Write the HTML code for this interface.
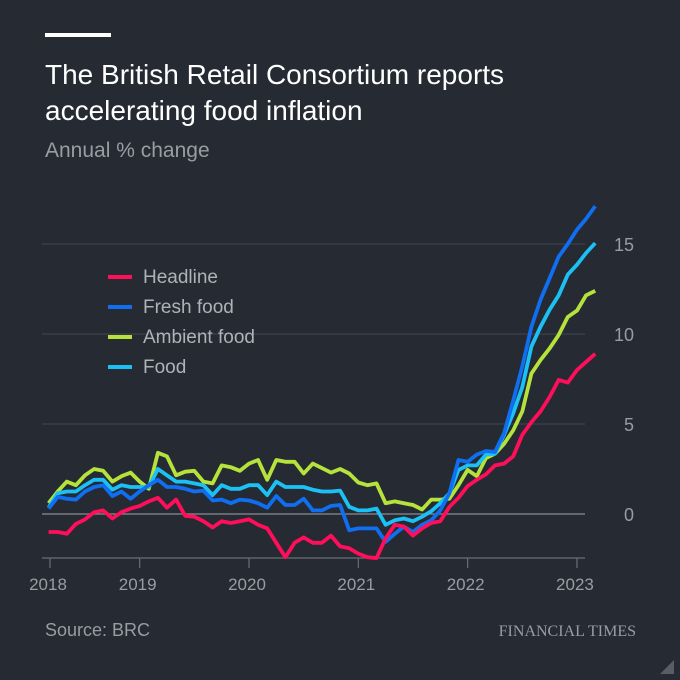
<!DOCTYPE html>
<html><head><meta charset="utf-8"><style>
body{margin:0;background:#262a33;}
#c{position:relative;width:680px;height:680px;background:#262a33;font-family:"Liberation Sans",sans-serif;overflow:hidden}
</style></head><body>
<div id="c">
<svg width="680" height="680">
<rect x="45" y="33" width="66" height="4" fill="#fff"/>
<text x="45" y="84" fill="#fff" font-size="28">The British Retail Consortium reports</text>
<text x="45" y="120" fill="#fff" font-size="28">accelerating food inflation</text>
<text x="45" y="157" fill="#9a9ca3" font-size="21">Annual % change</text>
<g id="grid"></g>
<g id="lines"></g>
<g id="legend"></g>
<text x="45" y="636" fill="#9a9ca3" font-size="18">Source: BRC</text>
<text x="636" y="636" fill="#9a9ca3" font-size="16" text-anchor="end" font-family="Liberation Serif, serif">FINANCIAL TIMES</text>
<polygon points="674,660 674,674 660,674" fill="#5a5d66"/>
</svg>
</div>
<script>
const yTicks=[0,5,10,15];
const xTickYears=[2018,2019,2020,2021,2022,2023];
const startMonth=2; // Mar 2018 (0-based month)
const headline=[-1.0,-1.0,-1.1,-0.55,-0.3,0.1,0.2,-0.25,0.1,0.3,0.45,0.7,0.9,0.35,0.8,-0.1,-0.15,-0.4,-0.75,-0.4,-0.5,-0.4,-0.3,-0.6,-0.8,-1.6,-2.4,-1.6,-1.3,-1.6,-1.6,-1.2,-1.8,-1.9,-2.2,-2.4,-2.45,-1.35,-0.6,-0.7,-1.2,-0.8,-0.5,-0.4,0.4,0.9,1.55,1.9,2.2,2.7,2.8,3.2,4.4,5.1,5.7,6.5,7.45,7.3,8.0,8.45,8.9];
const fresh=[0.3,0.95,0.85,0.8,1.25,1.5,1.6,1.0,1.25,0.85,1.25,1.6,1.9,1.5,1.5,1.4,1.25,1.3,0.75,0.8,0.6,0.8,0.75,0.6,0.35,1.0,0.5,0.5,0.85,0.2,0.2,0.45,0.5,-0.9,-0.8,-0.8,-0.8,-1.55,-1.1,-0.7,-1.0,-0.6,-0.35,0.2,1.15,3.0,2.9,3.3,3.5,3.45,4.5,6.3,8.2,10.4,11.9,13.1,14.3,15.0,15.8,16.4,17.1];
const ambient=[0.6,1.25,1.8,1.6,2.15,2.5,2.4,1.8,2.1,2.3,1.8,1.4,3.4,3.2,2.15,2.35,2.4,1.8,1.7,2.7,2.6,2.4,2.8,3.0,1.9,3.0,2.9,2.9,2.25,2.8,2.55,2.3,2.5,2.25,1.75,1.6,1.7,0.6,0.7,0.6,0.5,0.25,0.8,0.8,0.85,1.6,2.45,2.1,3.1,3.35,3.9,4.65,5.7,7.8,8.55,9.2,9.95,10.95,11.3,12.15,12.4];
const food=[0.35,1.15,1.25,1.25,1.6,1.9,1.9,1.35,1.6,1.5,1.5,1.5,2.5,2.15,1.8,1.8,1.7,1.6,1.05,1.6,1.4,1.4,1.6,1.6,1.05,1.8,1.5,1.5,1.5,1.35,1.25,1.25,1.3,0.4,0.2,0.2,0.3,-0.6,-0.35,-0.25,-0.4,-0.15,0.15,0.6,1.15,2.45,2.7,2.7,3.3,3.35,4.4,5.6,7.05,9.3,10.4,11.35,12.15,13.3,13.85,14.5,15.05];
const seriesNames=["Headline","Fresh food","Ambient food","Food"];
const NS="http://www.w3.org/2000/svg";
const y=v=>514-18*v;
const x=m=>249+9.11*(m-24); // m = months since Jan 2018
const grid=document.getElementById('grid');
function mk(tag,attrs,parent){const e=document.createElementNS(NS,tag);for(const k in attrs)e.setAttribute(k,attrs[k]);parent.appendChild(e);return e;}
yTicks.forEach(t=>{
 const l=mk('line',{x1:42,x2:585,y1:y(t),y2:y(t),stroke:t===0?'#8a8c93':'#3d414b','stroke-width':1.2},grid);
 
 
 const tx=mk('text',{x:634,y:y(t)+7,fill:'#9a9ca3','font-size':18,'text-anchor':'end'},grid);
 tx.textContent=t;
 
 
});
const ax=mk('line',{x1:42,x2:585,y1:558,y2:558,stroke:'#6a6d75','stroke-width':1.2},grid);


xTickYears.forEach(yr=>{
 let px=Math.max(50,x((yr-2018)*12));
 const t=mk('line',{x1:px,x2:px,y1:558,y2:568,stroke:'#6a6d75','stroke-width':1.2},grid);
 
 
 const tx=mk('text',{x:px-2,y:590,fill:'#9a9ca3','font-size':17,'text-anchor':'middle'},grid);
 tx.textContent=yr;
 
 
});
const colors=['#ff0e5a','#0f6ff0','#b5e33b','#1bc1f4'];
const data=[headline,fresh,ambient,food];
const order=[2,3,1,0];
const lines=document.getElementById('lines');
order.forEach(i=>{
 const d=data[i].map((v,k)=>(k?'L':'M')+x(startMonth+k).toFixed(1)+','+y(v).toFixed(1)).join('');
 const p=mk('path',{d:d,fill:'none',stroke:colors[i],'stroke-width':3.8,'stroke-linejoin':'round'},lines);
 
 
});
const lg=document.getElementById('legend');
seriesNames.forEach((n,i)=>{
 const yy=277+30*i;
 const l=mk('line',{x1:108,x2:132,y1:yy,y2:yy,stroke:colors[i],'stroke-width':4},lg);
 
 
 const t=mk('text',{x:143,y:yy+6,fill:'#b0b2b8','font-size':19},lg);
 t.textContent=n;
 
 
});
</script>
</body></html>
